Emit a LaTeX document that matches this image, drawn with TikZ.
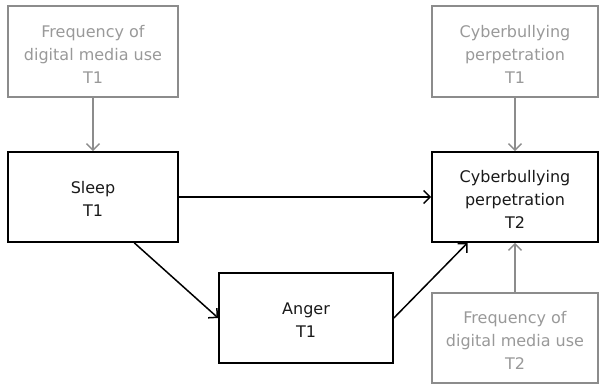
\documentclass[tikz,border=0pt]{standalone}
\usepackage{fontspec}
\setmainfont{DejaVu Sans}
\usetikzlibrary{arrows.meta}
\definecolor{lgray}{HTML}{8C8C8C}
\definecolor{tgray}{HTML}{999999}
\tikzset{
  box/.style={draw, line width=1.7pt, rectangle, inner sep=0pt},
  blackbox/.style={box, draw=black},
  graybox/.style={box, draw=lgray},
  txt/.style={align=center, inner sep=0pt, font=\fontsize{16}{23}\selectfont},
  blacktxt/.style={txt, text=black!90},
  graytxt/.style={txt, text=tgray},
  arr/.style={line width=1.5pt, -{Straight Barb[length=6.5pt,width=13pt,line width=1.5pt]}},
  blackarr/.style={arr, draw=black},
  grayarr/.style={arr, draw=lgray},
}
\begin{document}
\begin{tikzpicture}[x=1pt,y=-1pt]
\useasboundingbox (0,0) rectangle (601,385);
\node[graybox, minimum width=170pt, minimum height=91pt] (f1) at (93,51.5) {};
\node[graytxt] (f1t) at (93,54) {Frequency of\\digital media use\\T1};
\node[blackbox, minimum width=170pt, minimum height=90pt] (s1) at (93,197) {};
\node[blacktxt] (s1t) at (93,199) {Sleep\\T1};
\node[graybox, minimum width=166pt, minimum height=91pt] (c1) at (515,51.5) {};
\node[graytxt] (c1t) at (515,54) {Cyberbullying\\perpetration\\T1};
\node[blackbox, minimum width=166pt, minimum height=90pt] (c2) at (515,197) {};
\node[blacktxt] (c2t) at (515,199) {Cyberbullying\\perpetration\\T2};
\node[graybox, minimum width=166pt, minimum height=90pt] (f2) at (515,338) {};
\node[graytxt] (f2t) at (515,340.5) {Frequency of\\digital media use\\T2};
\node[blackbox, minimum width=174pt, minimum height=90pt] (a1) at (306,318) {};
\node[blacktxt] (a1t) at (306,320) {Anger\\T1};
\draw[grayarr] (f1.south) -- (s1.north);
\draw[grayarr] (c1.south) -- (c2.north);
\draw[grayarr] (f2.north) -- (c2.south);
\draw[blackarr] (s1.east) -- (c2.west);
\draw[blackarr] (s1.-48) -- (a1.west);
\draw[blackarr] (a1.east) -- (c2.-136);
\end{tikzpicture}
\end{document}
